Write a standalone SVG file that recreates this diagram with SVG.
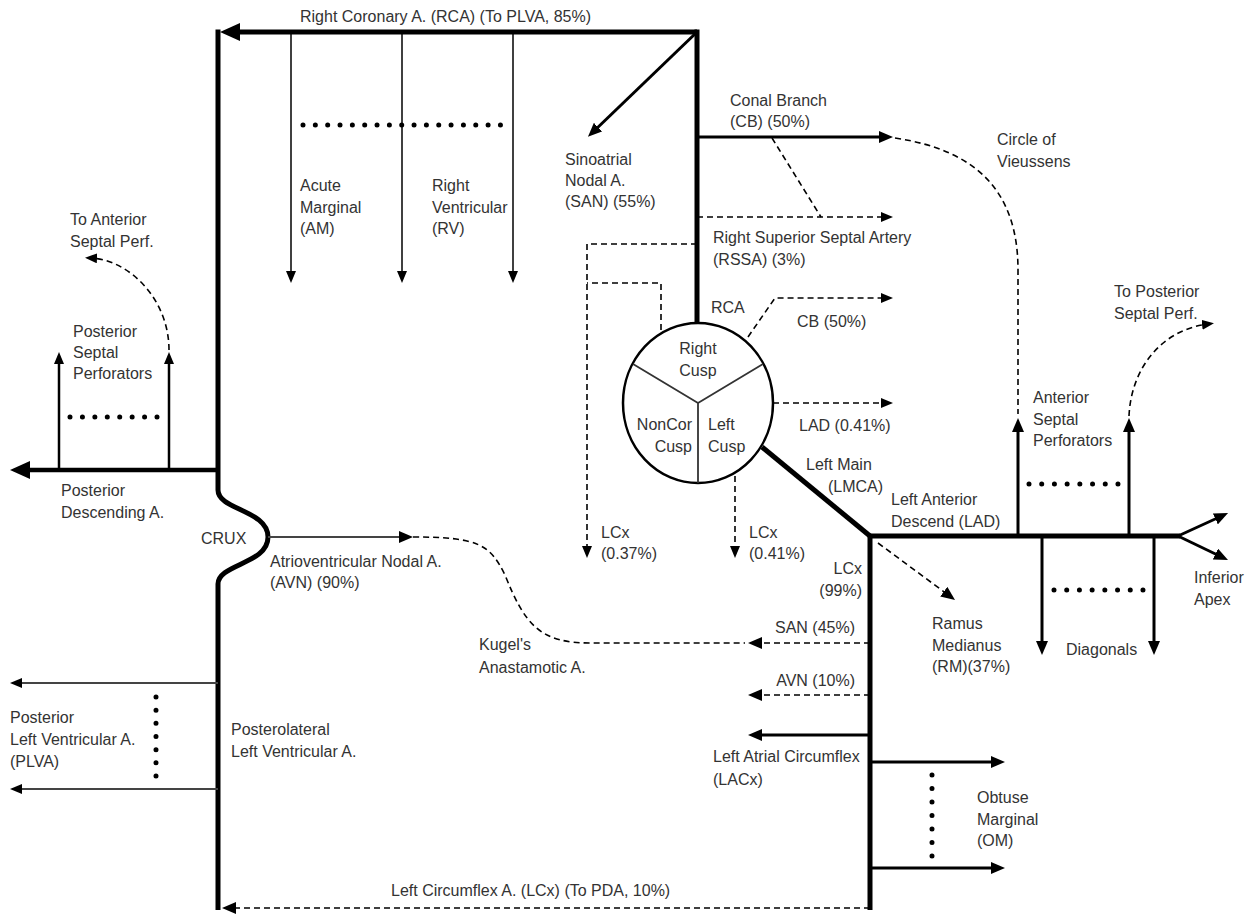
<svg xmlns="http://www.w3.org/2000/svg" width="1259" height="915" viewBox="0 0 1259 915">
<style>
.t{font-family:"Liberation Sans",Arial,sans-serif;font-size:16px;fill:#333}
.r{text-anchor:end}
.m{text-anchor:middle}
.k5{stroke:#000;stroke-width:5;fill:none}
.k4{stroke:#000;stroke-width:4.5;fill:none}
.k3{stroke:#000;stroke-width:3;fill:none}
.k25{stroke:#000;stroke-width:2.5;fill:none}
.k15{stroke:#000;stroke-width:1.5;fill:none}
.g2{stroke:#444;stroke-width:2;fill:none}
.d{stroke:#000;stroke-width:1.6;fill:none;stroke-dasharray:6 4}
.dots{stroke:#000;stroke-width:5;stroke-linecap:round;fill:none}
</style>
<defs>
<marker id="aL" markerUnits="userSpaceOnUse" markerWidth="20" markerHeight="18" viewBox="0 0 20 18" refX="10" refY="9" orient="auto"><path d="M0,0 L20,9 L0,18 z" fill="#000"/></marker>
<marker id="aM" markerUnits="userSpaceOnUse" markerWidth="14" markerHeight="12" viewBox="0 0 14 12" refX="7" refY="6" orient="auto"><path d="M0,0 L14,6 L0,12 z" fill="#000"/></marker>
<marker id="aS" markerUnits="userSpaceOnUse" markerWidth="12" markerHeight="10" viewBox="0 0 12 10" refX="6" refY="5" orient="auto"><path d="M0,0 L12,5 L0,10 z" fill="#000"/></marker>
</defs>
<rect width="1259" height="915" fill="#fff"/>

<g id="connectors">
  <!-- thick trunks -->
  <path class="k5" d="M697,32 L230,32" marker-end="url(#aL)"/>
  <path class="k5" d="M218,29.5 L218,490 C218,510 268,510 268,537 C268,564 218,564 218,584 L218,910"/>
  <path class="k5" d="M697,29.5 L697,323"/>
  <path class="k5" d="M762,447 L870,536"/>
  <path class="k5" d="M868,536 L1180,536"/>
  <path class="k5" d="M870,534 L870,910"/>
  <path class="k4" d="M218,470 L20,470" marker-end="url(#aL)"/>
  <!-- medium branches -->
  <path class="k3" d="M697,32 L593,132" marker-end="url(#aM)"/>
  <path class="k3" d="M697,137 L886,137" marker-end="url(#aM)"/>
  <path class="k3" d="M1018,536 L1018,425" marker-end="url(#aM)"/>
  <path class="k3" d="M1129,536 L1129,425" marker-end="url(#aM)"/>
  <path class="k3" d="M1042,536 L1042,648" marker-end="url(#aM)"/>
  <path class="k3" d="M1154,536 L1154,648" marker-end="url(#aM)"/>
  <path class="k3" d="M1178,536 L1221.7,516" marker-end="url(#aM)"/>
  <path class="k3" d="M1178,536 L1221.7,557" marker-end="url(#aM)"/>
  <path class="k3" d="M870,762 L998,762" marker-end="url(#aM)"/>
  <path class="k3" d="M870,868 L998,868" marker-end="url(#aM)"/>
  <path class="k3" d="M870,735 L755,735" marker-end="url(#aM)"/>
  <path class="k25" d="M59,470 L59,358" marker-end="url(#aS)"/>
  <path class="k25" d="M169,470 L169,358" marker-end="url(#aS)"/>
  <!-- thin branches -->
  <path class="k15" d="M291,32 L291,277" marker-end="url(#aS)"/>
  <path class="k15" d="M402,32 L402,277" marker-end="url(#aS)"/>
  <path class="k15" d="M513,32 L513,277" marker-end="url(#aS)"/>
  <path class="g2" d="M218,683 L16,683" marker-end="url(#aS)"/>
  <path class="g2" d="M218,789 L16,789" marker-end="url(#aS)"/>
  <path class="g2" d="M268,537 L406,537" marker-end="url(#aM)"/>
  <!-- dashed -->
  <path class="d" d="M895,138 C975,150 1018,190 1018,270 L1018,414"/>
  <path class="d" d="M772,138 L821,217"/>
  <path class="d" d="M697,217 L887,217" marker-end="url(#aS)"/>
  <path class="d" d="M697,244 L587,244 L587,552" marker-end="url(#aS)"/>
  <path class="d" d="M661,330 L661,283 L587,283"/>
  <path class="d" d="M748,337 L775,298 L887,298" marker-end="url(#aS)"/>
  <path class="d" d="M773,403 L887,403" marker-end="url(#aS)"/>
  <path class="d" d="M735,476 L735,552" marker-end="url(#aS)"/>
  <path class="d" d="M878,543 L949.4,595.8" marker-end="url(#aM)"/>
  <path class="d" d="M870,643 L755,643" marker-end="url(#aM)"/>
  <path class="d" d="M413,537 C480,537 490,545 505,575 C525,625 540,643 590,643 L745,643"/>
  <path class="d" d="M870,695 L755,695" marker-end="url(#aM)"/>
  <path class="d" d="M870,908 L229,908" marker-end="url(#aM)"/>
  <path class="d" d="M169,350 C169,300 130,260 91,258" marker-end="url(#aS)"/>
  <path class="d" d="M1129,416 C1131,370 1160,330 1208,324" marker-end="url(#aS)"/>
  <!-- dotted continuation marks -->
  <path class="dots" d="M303,125 L500.5,125" stroke-dasharray="0 12.34"/>
  <path class="dots" d="M70,417 L157.5,417" stroke-dasharray="0 12.43"/>
  <path class="dots" d="M1029,484 L1118.5,484" stroke-dasharray="0 12.71"/>
  <path class="dots" d="M1054,590 L1143.5,590" stroke-dasharray="0 12.71"/>
  <path class="dots" d="M156,697 L156,776.5" stroke-dasharray="0 13.17"/>
  <path class="dots" d="M932,775 L932,856.5" stroke-dasharray="0 13.5"/>
</g>

<g id="aortic-root">
  <ellipse cx="698" cy="403" rx="75" ry="80" fill="#fff" stroke="#000" stroke-width="2.5"/>
  <path d="M698,403 L633,364 M698,403 L763,364 M698,403 L698,483" stroke="#333" stroke-width="1.8" fill="none"/>
  <text class="t m"><tspan x="698" y="354">Right</tspan><tspan x="698" y="376">Cusp</tspan></text>
  <text class="t r"><tspan x="692" y="430">NonCor</tspan><tspan x="692" y="452">Cusp</tspan></text>
  <text class="t"><tspan x="708" y="430">Left</tspan><tspan x="708" y="452">Cusp</tspan></text>
</g>

<g id="rca"><text class="t" x="300" y="22">Right Coronary A. (RCA) (To PLVA, 85%)</text></g>
<g id="am"><text class="t"><tspan x="300" y="191">Acute</tspan><tspan x="300" y="213">Marginal</tspan><tspan x="300" y="234">(AM)</tspan></text></g>
<g id="rv"><text class="t"><tspan x="432" y="191">Right</tspan><tspan x="432" y="213">Ventricular</tspan><tspan x="432" y="234">(RV)</tspan></text></g>
<g id="san"><text class="t"><tspan x="565" y="165">Sinoatrial</tspan><tspan x="565" y="186">Nodal A.</tspan><tspan x="565" y="207">(SAN) (55%)</tspan></text></g>
<g id="cb"><text class="t"><tspan x="730" y="106">Conal Branch</tspan><tspan x="730" y="127">(CB) (50%)</tspan></text></g>
<g id="vieussens"><text class="t"><tspan x="997" y="145">Circle of</tspan><tspan x="997" y="167">Vieussens</tspan></text></g>
<g id="rssa"><text class="t"><tspan x="713" y="243">Right Superior Septal Artery</tspan><tspan x="713" y="265">(RSSA) (3%)</tspan></text></g>
<g id="to-ant-septal"><text class="t"><tspan x="70" y="225">To Anterior</tspan><tspan x="70" y="247">Septal Perf.</tspan></text></g>
<g id="post-septal"><text class="t"><tspan x="73" y="337">Posterior</tspan><tspan x="73" y="358">Septal</tspan><tspan x="73" y="379">Perforators</tspan></text></g>
<g id="pda"><text class="t"><tspan x="61" y="496">Posterior</tspan><tspan x="61" y="518">Descending A.</tspan></text></g>
<g id="crux"><text class="t" x="201" y="544">CRUX</text></g>
<g id="avn"><text class="t"><tspan x="270" y="567">Atrioventricular Nodal A.</tspan><tspan x="270" y="588">(AVN) (90%)</tspan></text></g>
<g id="rca-ostium"><text class="t" x="711" y="313">RCA</text></g>
<g id="cb-cusp"><text class="t" x="797" y="327">CB (50%)</text></g>
<g id="lad-cusp"><text class="t" x="799" y="431">LAD (0.41%)</text></g>
<g id="lmca"><text class="t"><tspan x="806" y="470">Left Main</tspan><tspan x="828" y="492">(LMCA)</tspan></text></g>
<g id="lcx-037"><text class="t"><tspan x="601" y="538">LCx</tspan><tspan x="601" y="559">(0.37%)</tspan></text></g>
<g id="lcx-041"><text class="t"><tspan x="749" y="538">LCx</tspan><tspan x="749" y="559">(0.41%)</tspan></text></g>
<g id="lad"><text class="t"><tspan x="891" y="505">Left Anterior</tspan><tspan x="891" y="527">Descend (LAD)</tspan></text></g>
<g id="to-post-septal"><text class="t"><tspan x="1114" y="297">To Posterior</tspan><tspan x="1114" y="319">Septal Perf.</tspan></text></g>
<g id="ant-septal"><text class="t"><tspan x="1033" y="403">Anterior</tspan><tspan x="1033" y="425">Septal</tspan><tspan x="1033" y="446">Perforators</tspan></text></g>
<g id="lcx"><text class="t r"><tspan x="862" y="574">LCx</tspan><tspan x="862" y="596">(99%)</tspan></text></g>
<g id="ramus"><text class="t"><tspan x="932" y="629">Ramus</tspan><tspan x="932" y="651">Medianus</tspan><tspan x="932" y="672">(RM)(37%)</tspan></text></g>
<g id="diagonals"><text class="t" x="1066" y="655">Diagonals</text></g>
<g id="apex"><text class="t"><tspan x="1194" y="583">Inferior</tspan><tspan x="1194" y="605">Apex</tspan></text></g>
<g id="san-lcx"><text class="t r" x="855" y="633">SAN (45%)</text></g>
<g id="kugel"><text class="t"><tspan x="479" y="650">Kugel's</tspan><tspan x="479" y="673">Anastamotic A.</tspan></text></g>
<g id="avn-lcx"><text class="t r" x="855" y="686">AVN (10%)</text></g>
<g id="lacx"><text class="t"><tspan x="713" y="762">Left Atrial Circumflex</tspan><tspan x="713" y="785">(LACx)</tspan></text></g>
<g id="om"><text class="t"><tspan x="977" y="803">Obtuse</tspan><tspan x="977" y="825">Marginal</tspan><tspan x="977" y="846">(OM)</tspan></text></g>
<g id="plva"><text class="t"><tspan x="10" y="723">Posterior</tspan><tspan x="10" y="745">Left Ventricular A.</tspan><tspan x="10" y="767">(PLVA)</tspan></text></g>
<g id="posterolateral"><text class="t"><tspan x="231" y="735">Posterolateral</tspan><tspan x="231" y="757">Left Ventricular A.</tspan></text></g>
<g id="lcx-pda"><text class="t" x="391" y="896">Left Circumflex A. (LCx) (To PDA, 10%)</text></g>
</svg>
